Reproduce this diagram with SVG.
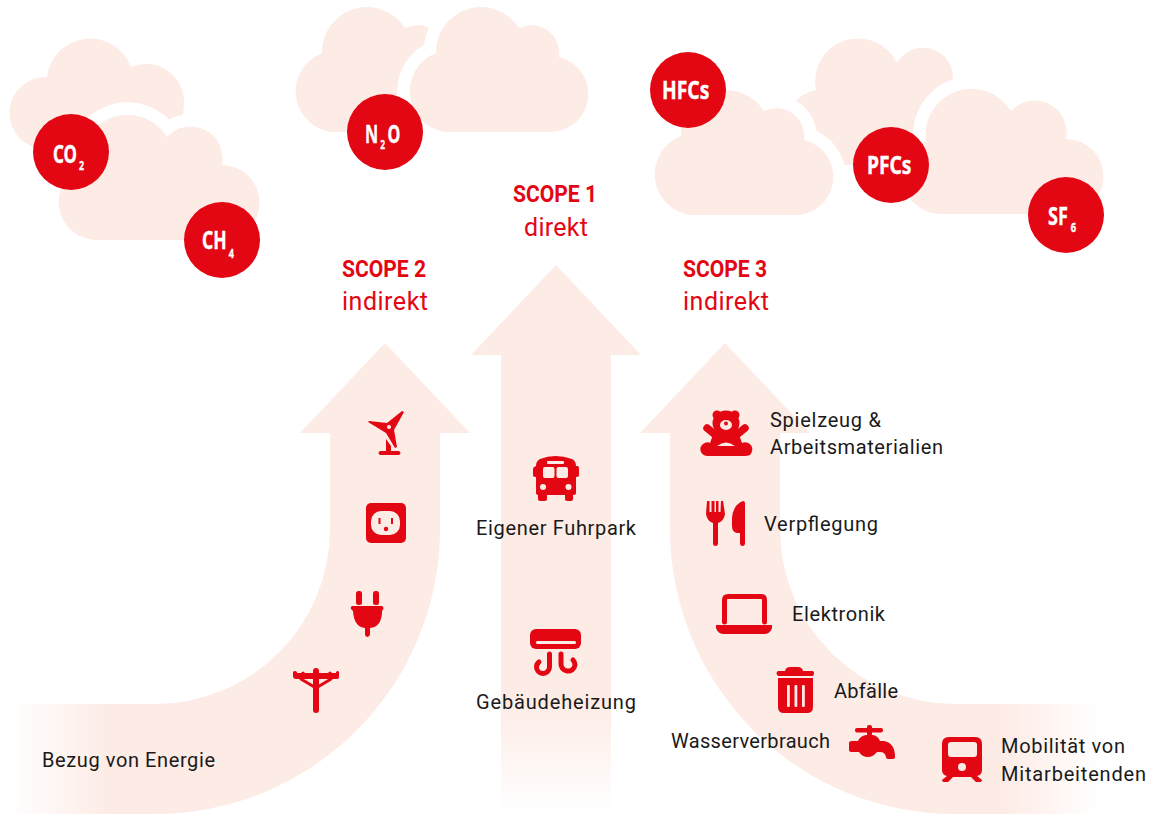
<svg xmlns="http://www.w3.org/2000/svg" xmlns:xlink="http://www.w3.org/1999/xlink" width="1152" height="814" viewBox="0 0 1152 814">
<style>
.cl{fill:#fdebe5}
.ha{stroke:#fff;stroke-width:25;paint-order:stroke;stroke-linejoin:round}
.dot{fill:#e30613}
.r{fill:#e30613}
.p{fill:#fdebe5}
.ln{fill:none;stroke:#e30613;stroke-linecap:round}
text{font-family:Roboto,"Noto Sans","DejaVu Sans",sans-serif}
.t{font-size:20px;fill:#1a1a1a}
.g{font-family:"Noto Sans",Roboto,sans-serif;font-size:25px;font-weight:700;fill:#fff;stroke:#fff;stroke-width:.4}
.g .s{font-size:13px}
.h{font-size:23px;font-weight:700;fill:#e30613}
.i{font-size:25px;fill:#e30613}
</style>
<defs>
<linearGradient id="fl" gradientUnits="userSpaceOnUse" x1="10" y1="0" x2="110" y2="0"><stop offset="0" stop-color="#fdebe5" stop-opacity="0"/><stop offset="1" stop-color="#fdebe5"/></linearGradient>
<linearGradient id="fr" gradientUnits="userSpaceOnUse" x1="1100" y1="0" x2="1000" y2="0"><stop offset="0" stop-color="#fdebe5" stop-opacity="0"/><stop offset="1" stop-color="#fdebe5"/></linearGradient>
<linearGradient id="fc" gradientUnits="userSpaceOnUse" x1="0" y1="700" x2="0" y2="812"><stop offset="0" stop-color="#fdebe5"/><stop offset="1" stop-color="#fdebe5" stop-opacity="0"/></linearGradient>
<path id="cA" d="M446 132H551A38 38 0 0 0 559 57A28 28 0 0 0 519 28A45 45 0 0 0 436 53A41 41 0 0 0 446 132Z"/>
<path id="cB" d="M96 240H222A37.500 37.500 0 0 0 222 165A32 32 0 0 0 167 137A46 46 0 0 0 82 167A38 38 0 0 0 96 240Z"/>
</defs>

<g id="arrows">
<path id="arrow-scope2" fill="url(#fl)" d="M385 343L470 433H440V530A285 285 0 0 1 155 814H0V704H155A175 175 0 0 0 330 530V433H300Z"/>
<path id="arrow-scope1" class="cl" d="M556 265L641 355H611V700H501V355H471Z"/>
<rect x="501" y="700" width="110" height="114" fill="url(#fc)"/>
<path id="arrow-scope3" fill="url(#fr)" d="M725 343L810 433H780V530A175 175 0 0 0 955 704H1152V814H955A285 285 0 0 1 670 530V433H640Z"/>
</g>

<g id="clouds">
<path class="cl" d="M44 149A36 36 0 0 1 47 77A43.500 43.500 0 0 1 131 67A38 38 0 0 1 184 102Q184 115 178 135V149Z"/>
<use href="#cB" class="cl ha"/>
<use href="#cA" x="-114" class="cl"/>
<use href="#cA" class="cl ha"/>
<path class="cl" d="M830 165A37 37 0 0 1 816 90A43 43 0 0 1 897 63A30 30 0 0 1 953 80L950 100V165Z"/>
<use href="#cA" x="245" y="83" class="cl ha"/>
<use href="#cB" x="844" y="-26" class="cl ha"/>
</g>

<g id="gas-co2"><circle class="dot" cx="71" cy="152" r="38"/><text class="g" transform="translate(53 163) scale(.68 1)">CO<tspan class="s" dx="3" dy="7">2</tspan></text></g>
<g id="gas-ch4"><circle class="dot" cx="222" cy="240" r="38"/><text class="g" transform="translate(202 249) scale(.7 1)">CH<tspan class="s" dx="3" dy="9">4</tspan></text></g>
<g id="gas-n2o"><circle class="dot" cx="385" cy="132" r="38"/><text class="g" transform="translate(365 143) scale(.65 1)">N<tspan class="s" dx="3" dy="6">2</tspan><tspan dx="4" dy="-6">O</tspan></text></g>
<g id="gas-hfcs"><circle class="dot" cx="688" cy="90" r="38"/><text class="g" transform="translate(662 99) scale(.77 1)">HFCs</text></g>
<g id="gas-pfcs"><circle class="dot" cx="891" cy="165" r="38"/><text class="g" transform="translate(867 174) scale(.77 1)">PFCs</text></g>
<g id="gas-sf6"><circle class="dot" cx="1066" cy="215" r="38"/><text class="g" transform="translate(1048 225) scale(.72 1)">SF<tspan class="s" dx="4" dy="7">6</tspan></text></g>

<g id="scope1"><text class="h" x="513" y="202" textLength="84" lengthAdjust="spacingAndGlyphs">SCOPE 1</text><text class="i" x="524" y="236" textLength="64">direkt</text></g>
<g id="scope2"><text class="h" x="342" y="277" textLength="84" lengthAdjust="spacingAndGlyphs">SCOPE 2</text><text class="i" x="342" y="310" textLength="86">indirekt</text></g>
<g id="scope3"><text class="h" x="683" y="277" textLength="84" lengthAdjust="spacingAndGlyphs">SCOPE 3</text><text class="i" x="683" y="310" textLength="86">indirekt</text></g>

<g id="item-turbine">
<path class="r" d="M368 422L369 421L387 423L402 411L404 412L394 430L397 447L395 448L386 433Z"/>
<circle class="p" cx="389" cy="427" r="2"/>
<path class="r" d="M386 439L391 446V451H399Q402 453 399 455H380Q377 453 380 451H386Z"/>
</g>
<g id="item-socket">
<rect class="r" x="366" y="503" width="40" height="40" rx="5"/>
<rect class="p" x="371" y="511" width="29" height="24" rx="10"/>
<rect class="r" x="378.500" y="518" width="2" height="6"/><rect class="r" x="391" y="518" width="2" height="6"/><circle class="r" cx="386" cy="529" r="2.200"/>
</g>
<g id="item-plug">
<rect class="r" x="356" y="591" width="6" height="14" rx="2.500"/><rect class="r" x="373" y="591" width="6" height="14" rx="2.500"/>
<path class="r" d="M352 606H382Q385 608 382 611V613Q381 627 370 628V635Q367 639 365 635V628Q354 627 353 611Q349 608 352 606Z"/>
</g>
<g id="item-pole">
<rect class="r" x="313" y="668" width="6" height="45" rx="3"/>
<path class="r" d="M293 672Q295 670 297 672V673H301Q303 670 305 673H328Q330 670 332 673H336V672Q338 670 339 672V677Q339 679 336 679H296Q293 679 293 676Z"/>
<path class="ln" stroke-width="3" d="M301 679L316 688L331 679"/>
</g>
<g id="item-bus">
<path class="r" d="M540 459Q555 453 572 459Q576 461 576 466H578Q579 467 579 469V475Q579 477 576 477V493Q576 495 573 495V499Q573 501 570 501H567Q565 501 565 499V495H547V499Q547 501 544 501H541Q538 501 538 499V495Q536 495 536 493V477Q533 477 533 475V469Q533 467 536 466Q536 461 540 459Z"/>
<rect class="p" x="547" y="461" width="17" height="3" rx="1"/>
<rect class="p" x="543" y="467" width="11.500" height="11" rx="2"/><rect class="p" x="556.500" y="467" width="11.500" height="11" rx="2"/>
<circle class="p" cx="543" cy="487" r="3"/><circle class="p" cx="568.500" cy="487" r="3"/>
</g>
<g id="item-ac">
<rect class="r" x="530" y="629" width="51" height="20" rx="6"/>
<rect class="p" x="536" y="641" width="40" height="3" rx="1.500"/>
<path class="ln" stroke-width="5" d="M549.500 654V667A6.500 6.500 0 0 1 536.500 667Q536.500 664 539 662"/>
<path class="ln" stroke-width="5" d="M561 654V663A7 7 0 0 0 575 665Q575 662 573 660"/>
</g>
<g id="item-teddy">
<circle class="r" cx="717" cy="415" r="4.500"/><circle class="r" cx="735" cy="415" r="4.500"/>
<ellipse class="r" cx="726" cy="423" rx="13.500" ry="12.500"/>
<ellipse class="p" cx="726" cy="425" rx="6" ry="5"/><circle class="r" cx="726" cy="423.500" r="2"/>
<path class="ln" stroke-width="7.500" d="M707 428L718 437M745 428L734 437"/>
<path class="r" d="M714 432H738L742 443Q747 441 751 445Q754 450 750 455Q748 456 744 456H708Q703 456 701 452Q699 447 703 444Q707 441 710 443Z"/>
<path class="p" d="M717 446Q726 439 735 446Z"/>
</g>
<g id="item-cutlery">
<path class="r" d="M706 514L707 501H709.500V512H711.500V501H714.500V512H716V501H718.500V512H720.500L721 501H723L725 514Q724 521 718 523V543Q718 546 715.500 546Q713 546 713 543V523Q707 521 706 514Z"/>
<path class="r" d="M745 503V543Q745 546 742.500 546Q740 546 740 543V533H737Q732 532 732 526V518Q733 505 743 501Q745 501 745 503Z"/>
</g>
<g id="item-laptop">
<path class="ln" stroke-width="5" stroke-linecap="butt" stroke-linejoin="round" d="M724.500 622V600Q724.500 596.500 728 596.500H761Q764.500 596.500 764.500 600V622"/>
<path class="r" d="M716 625H772V628Q770 634 764 634H724Q718 634 716 628Z"/>
</g>
<g id="item-trash">
<path class="r" d="M785 671Q786 667 790 667H798Q802 667 803 671H813Q815 673 813 676H778Q775 673 778 671Z"/>
<path class="r" d="M778 678H813V707Q813 713 807 713H784Q778 713 778 707Z"/>
<rect class="p" x="787" y="685" width="2.800" height="22" rx="1"/><rect class="p" x="794.500" y="685" width="2.800" height="22" rx="1"/><rect class="p" x="802" y="685" width="2.800" height="22" rx="1"/>
</g>
<g id="item-tap">
<rect class="r" x="855" y="728" width="28" height="4.500" rx="2"/>
<rect class="r" x="867" y="725" width="5" height="11" rx="2"/>
<path class="r" d="M849 743Q849 741 852 741H858Q860 736 866 735H873Q878 736 880 741H884Q895 743 895 757Q895 759 893 759H888Q886 759 886 757Q885 752 880 752H877Q873 757 868 757Q862 757 859 752H852Q849 752 849 750Z"/>
</g>
<g id="item-train">
<path class="r" d="M949 737H975Q982 737 982 744V770Q982 775 977 776L982 780Q982 782 979 782H976L971 777H953L948 782H945Q942 782 942 780L947 776Q942 775 942 770V744Q942 737 949 737Z"/>
<rect class="p" x="948" y="742" width="29" height="15" rx="3"/>
<circle class="p" cx="962" cy="767" r="4"/>
</g>

<g id="labels">
<text class="t" x="42" y="767" textLength="173">Bezug von Energie</text>
<text class="t" x="476" y="535" textLength="160">Eigener Fuhrpark</text>
<text class="t" x="476" y="709" textLength="160">Gebäudeheizung</text>
<text class="t" x="770" y="427" textLength="111">Spielzeug &amp;</text>
<text class="t" x="770" y="454" textLength="173">Arbeitsmaterialien</text>
<text class="t" x="764" y="531" textLength="114">Verpflegung</text>
<text class="t" x="792" y="621" textLength="93">Elektronik</text>
<text class="t" x="834" y="698" textLength="64">Abfälle</text>
<text class="t" x="671" y="748" textLength="159">Wasserverbrauch</text>
<text class="t" x="1001" y="753" textLength="124">Mobilität von</text>
<text class="t" x="1001" y="781" textLength="145">Mitarbeitenden</text>
</g>
</svg>
